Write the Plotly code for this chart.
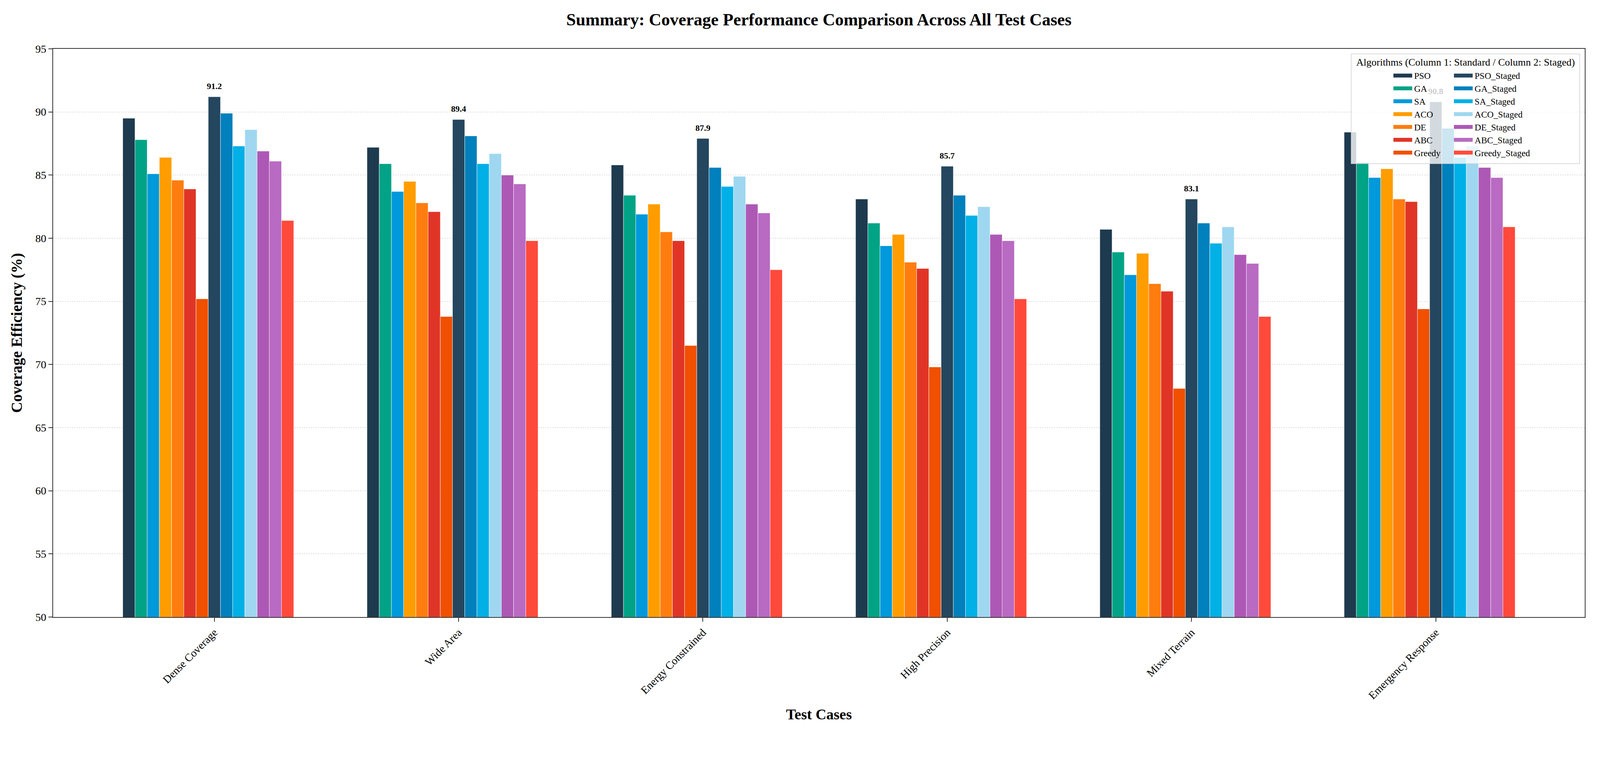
import plotly.graph_objects as go

# Data
test_cases = ["Dense Coverage", "Wide Area", "Energy Constrained", "High Precision",
              "Mixed Terrain", "Emergency Response"]

algorithms = ["PSO", "GA", "SA", "ACO", "DE", "ABC", "Greedy"]
staged_algorithms = [a + "_Staged" for a in algorithms]

pso = [89.5, 87.2, 85.8, 83.1, 80.7, 88.4]
ga = [87.8, 85.9, 83.4, 81.2, 78.9, 86.0]
sa = [85.1, 83.7, 81.9, 79.4, 77.1, 84.8]
aco = [86.4, 84.5, 82.7, 80.3, 78.8, 85.5]
de = [84.6, 82.8, 80.5, 78.1, 76.4, 83.1]
abc = [83.9, 82.1, 79.8, 77.6, 75.8, 82.9]
greedy = [75.2, 73.8, 71.5, 69.8, 68.1, 74.4]

pso_staged = [91.2, 89.4, 87.9, 85.7, 83.1, 90.8]
ga_staged = [89.9, 88.1, 85.6, 83.4, 81.2, 88.7]
sa_staged = [87.3, 85.9, 84.1, 81.8, 79.6, 86.4]
aco_staged = [88.6, 86.7, 84.9, 82.5, 80.9, 87.3]
de_staged = [86.9, 85.0, 82.7, 80.3, 78.7, 85.6]
abc_staged = [86.1, 84.3, 82.0, 79.8, 78.0, 84.8]
greedy_staged = [81.4, 79.8, 77.5, 75.2, 73.8, 80.9]

standard_values = [pso, ga, sa, aco, de, abc, greedy]
staged_values = [pso_staged, ga_staged, sa_staged, aco_staged, de_staged, abc_staged, greedy_staged]

standard_colors = ['#1E3A4F', '#00A386', '#0099DB', '#FF9D00', '#FF7D0F', '#E03526', '#F05000']
staged_colors = ['#24465E', '#0080BC', '#00B0E6', '#9FD7F0', '#AE58B6', '#B96AC2', '#FF4A3B']

FONT = "Liberation Serif"
bar_w = 0.05

fig = go.Figure()

series = list(zip(algorithms, standard_values, standard_colors, ['legend'] * 7)) + \
    list(zip(staged_algorithms, staged_values, staged_colors, ['legend2'] * 7))

for i, (name, vals, color, leg) in enumerate(series):
    fig.add_trace(go.Bar(
        x=test_cases,
        y=vals,
        name=name,
        width=bar_w,
        offset=(i - 7) * bar_w - bar_w / 2,
        marker=dict(color=color, line=dict(color='rgba(255,255,255,0.8)', width=1)),
        showlegend=False,
    ))
    # wide legend swatch (legend only)
    fig.add_trace(go.Scatter(
        x=[None], y=[None], mode='lines', name=name,
        line=dict(color=color, width=16),
        legend=leg,
    ))

# best value label in each test case
all_vals = standard_values + staged_values
best = [max(v[j] for v in all_vals) for j in range(len(test_cases))]
fig.add_trace(go.Scatter(
    x=test_cases,
    y=[b + 0.45 for b in best],
    mode='text',
    text=[f"{b:.1f}" for b in best],
    textposition='top center',
    textfont=dict(family=FONT, size=22, color='black', weight='bold'),
    showlegend=False,
    cliponaxis=False,
))

fig.update_layout(
    width=4080,
    height=1861,
    barmode='overlay',
    plot_bgcolor='white',
    paper_bgcolor='white',
    font=dict(family=FONT, color='black'),
    margin=dict(l=128, r=31, t=117, b=289),
    title=dict(
        text='<b>Summary: Coverage Performance Comparison Across All Test Cases</b>',
        x=0.5, xref='paper', y=1 - 42 / 1861, yanchor='middle',
        font=dict(family=FONT, size=44, color='black'),
    ),
    xaxis=dict(
        range=[-0.66, 5.61],
        tickangle=-45,
        tickfont=dict(family=FONT, size=28),
        ticks='outside', ticklen=10, tickwidth=1.5, tickcolor='#333',
        showline=True, linecolor='#333', linewidth=2, mirror=True,
        showgrid=False,
        title=dict(text='<b>Test Cases</b>', font=dict(family=FONT, size=38), standoff=20),
    ),
    yaxis=dict(
        range=[50, 95],
        dtick=5,
        tickfont=dict(family=FONT, size=28),
        ticks='outside', ticklen=10, tickwidth=1.5, tickcolor='#333',
        showline=True, linecolor='#333', linewidth=2, mirror=True,
        showgrid=True, gridcolor='rgba(180,180,180,0.45)', griddash='dot', gridwidth=1.5,
        zeroline=False,
        title=dict(text='<b>Coverage Efficiency (%)</b>', font=dict(family=FONT, size=39), standoff=22),
    ),
    legend=dict(
        x=0.8738, y=0.9677, xanchor='left', yanchor='top',
        bgcolor='rgba(0,0,0,0)', font=dict(family=FONT, size=23),
        tracegroupgap=0, itemwidth=48,
    ),
    legend2=dict(
        x=0.9133, y=0.9677, xanchor='left', yanchor='top',
        bgcolor='rgba(0,0,0,0)', font=dict(family=FONT, size=23),
        tracegroupgap=0, itemwidth=48,
    ),
)

# legend frame and shared title
fig.add_shape(
    type='rect', xref='paper', yref='paper',
    x0=0.8475, x1=0.9967, y0=0.798, y1=0.991,
    fillcolor='rgba(255,255,255,0.8)', line=dict(color='#d0d0d0', width=1.5),
    layer='above',
)
fig.add_annotation(
    text='Algorithms (Column 1: Standard / Column 2: Staged)',
    xref='paper', yref='paper', x=0.9222, y=0.976,
    xanchor='center', yanchor='middle', showarrow=False,
    font=dict(family=FONT, size=26, color='black'),
)

fig.write_html("out.html")
